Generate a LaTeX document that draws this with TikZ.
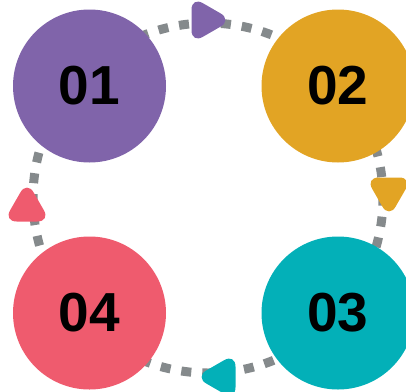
\documentclass[tikz,border=0pt]{standalone}
\usepackage{fontspec}
\setmainfont{Liberation Sans}
\usetikzlibrary{shapes.geometric}
\definecolor{ringgray}{RGB}{133,138,140}
\definecolor{stepviolet}{RGB}{128,100,170}
\definecolor{steporange}{RGB}{226,164,36}
\definecolor{stepteal}{RGB}{3,176,184}
\definecolor{stepred}{RGB}{239,91,110}
\begin{document}
\begin{tikzpicture}[x=1pt,y=-1pt,
  stage/.style={circle,minimum size=153pt,inner sep=0pt,text=black,
    font=\bfseries\fontsize{55}{55}\selectfont},
  pointer/.style={regular polygon,regular polygon sides=3,minimum size=54pt,
    inner sep=0pt,rounded corners=13pt}]
\useasboundingbox (0,0) rectangle (406,391);
\clip (0,0) rectangle (406,391);
\coordinate (m) at (208,198);
\draw[ringgray,line width=9pt,dash pattern=on 10pt off 11pt] (m) circle (175pt);
\node [stage,fill=stepviolet] (s1) at (89.5,86) {01};
\node [stage,fill=steporange] (s2) at (338,86) {02};
\node [stage,fill=stepteal] (s3) at (338,313) {03};
\node [stage,fill=stepred] (s4) at (89.5,313) {04};
% markers along the ring, clockwise
\node [pointer,fill=stepviolet,rotate=-90] (p1) at (205,20) {};
\node [pointer,fill=steporange,rotate=180] (p2) at (389,191) {};
\node [pointer,fill=stepteal,rotate=90] (p3) at (222,377) {};
\node [pointer,fill=stepred] (p4) at (27,208) {};
\end{tikzpicture}
\end{document}
